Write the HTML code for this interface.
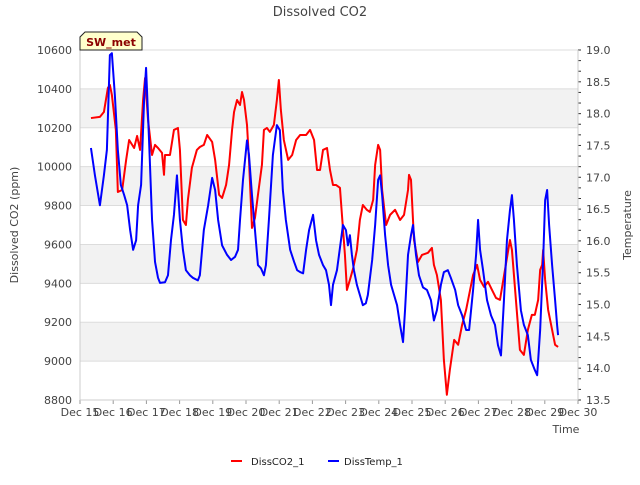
<!DOCTYPE html>
<html><head><meta charset="utf-8"><style>
body{margin:0;background:#fff;font-family:"Liberation Sans","DejaVu Sans",sans-serif;}
svg text{font-family:"DejaVu Sans","Liberation Sans",sans-serif;}
</style></head><body>
<svg id="chart" width="640" height="480" xmlns="http://www.w3.org/2000/svg">
<rect width="640" height="480" fill="#fff"/>
<g id="bands"></g><g id="grid"></g>
<text x="320" y="16" text-anchor="middle" font-size="13" fill="#444">Dissolved CO2</text>
<text transform="translate(18,225) rotate(-90)" text-anchor="middle" font-size="11" fill="#444">Dissolved CO2 (ppm)</text>
<text transform="translate(631,225) rotate(-90)" text-anchor="middle" font-size="11" fill="#444">Temperature</text>
<text x="566" y="433" text-anchor="middle" font-size="11" fill="#444">Time</text>
<g id="axes"></g><g id="series"></g>
<g>
<path d="M80,50 L80,37 L85,32 L137,32 L142,37 L142,50 Z" fill="#ffffcc" stroke="#222" stroke-width="1"/>
<text x="111" y="46" text-anchor="middle" font-size="11" font-weight="bold" fill="#8b0000">SW_met</text>
</g>
<g>
<g><line x1="231" y1="461" x2="242" y2="461" stroke="#ff0000" stroke-width="2"/><text x="251" y="465" font-size="10" fill="#222">DissCO2_1</text></g>
<g><line x1="328" y1="461" x2="339" y2="461" stroke="#0000ff" stroke-width="2"/><text x="344" y="465" font-size="10" fill="#222">DissTemp_1</text></g>
</g>
</svg>
<script>
const co2Days=[15.33,15.60,15.72,15.84,15.90,15.96,16.08,16.14,16.27,16.39,16.48,16.63,16.72,16.81,16.90,16.96,17.05,17.17,17.26,17.35,17.47,17.53,17.56,17.71,17.83,17.95,18.01,18.10,18.19,18.25,18.37,18.52,18.61,18.73,18.83,18.98,19.07,19.19,19.28,19.40,19.49,19.58,19.64,19.73,19.82,19.88,19.94,20.03,20.09,20.18,20.27,20.36,20.48,20.54,20.63,20.72,20.84,20.93,20.99,21.05,21.14,21.27,21.39,21.51,21.63,21.81,21.93,22.05,22.14,22.23,22.32,22.44,22.53,22.62,22.71,22.83,22.89,22.98,23.04,23.13,23.23,23.34,23.43,23.52,23.64,23.73,23.83,23.89,23.98,24.04,24.10,24.22,24.34,24.49,24.64,24.76,24.88,24.91,24.97,25.06,25.18,25.30,25.48,25.60,25.66,25.75,25.87,25.96,26.05,26.14,26.27,26.39,26.51,26.63,26.75,26.84,26.96,27.05,27.17,27.29,27.41,27.53,27.65,27.80,27.95,28.01,28.13,28.25,28.37,28.49,28.61,28.70,28.80,28.86,28.92,28.95,29.01,29.10,29.22,29.31,29.40];
const co2Values=[10250,10256,10281,10405,10420,10369,10189,9870,9880,10035,10137,10096,10158,10086,10343,10456,10240,10060,10112,10096,10071,9958,10060,10060,10189,10199,10086,9726,9700,9829,9994,10086,10101,10112,10163,10127,10035,9855,9839,9906,10009,10189,10281,10343,10317,10384,10343,10215,10035,9685,9736,9855,10009,10189,10199,10179,10215,10343,10446,10292,10137,10035,10060,10137,10163,10163,10189,10137,9983,9983,10086,10096,9983,9906,9906,9891,9752,9546,9366,9418,9479,9572,9726,9803,9778,9767,9829,10009,10112,10086,9880,9700,9752,9778,9726,9752,9880,9958,9932,9623,9510,9546,9557,9582,9495,9443,9315,9007,8827,8955,9109,9084,9187,9264,9366,9443,9495,9418,9382,9408,9366,9325,9315,9469,9623,9572,9315,9058,9032,9161,9238,9238,9315,9469,9495,9572,9418,9264,9161,9084,9073];
const tempDays=[15.33,15.45,15.60,15.72,15.81,15.90,15.96,16.05,16.14,16.23,16.33,16.42,16.51,16.60,16.69,16.75,16.84,16.93,16.99,17.08,17.17,17.26,17.35,17.41,17.56,17.65,17.74,17.83,17.92,18.01,18.10,18.19,18.31,18.40,18.55,18.61,18.73,18.86,18.98,19.07,19.16,19.28,19.43,19.55,19.67,19.76,19.82,19.91,20.03,20.09,20.18,20.27,20.36,20.45,20.54,20.60,20.69,20.81,20.93,21.02,21.11,21.20,21.33,21.45,21.54,21.63,21.72,21.81,21.90,22.02,22.11,22.20,22.32,22.41,22.50,22.56,22.62,22.74,22.86,22.92,23.01,23.07,23.13,23.19,23.25,23.34,23.43,23.52,23.61,23.67,23.80,23.89,23.98,24.04,24.10,24.19,24.28,24.37,24.46,24.55,24.64,24.73,24.79,24.88,24.97,25.03,25.12,25.21,25.33,25.45,25.57,25.66,25.75,25.87,25.96,26.08,26.17,26.30,26.39,26.51,26.63,26.72,26.84,26.93,26.99,27.05,27.14,27.26,27.38,27.50,27.59,27.68,27.77,27.86,27.95,28.01,28.07,28.16,28.28,28.37,28.49,28.58,28.64,28.70,28.77,28.86,28.95,29.01,29.07,29.13,29.22,29.31,29.37,29.40];
const tempValues=[17.46,17.03,16.56,17.03,17.43,18.92,18.95,18.29,17.43,16.88,16.72,16.56,16.17,15.86,16.01,16.56,16.88,18.21,18.72,17.58,16.33,15.67,15.42,15.34,15.35,15.46,16.01,16.41,17.03,16.33,15.86,15.54,15.46,15.42,15.38,15.46,16.17,16.56,16.99,16.80,16.33,15.93,15.78,15.70,15.75,15.86,16.33,16.96,17.58,17.35,16.72,16.17,15.62,15.57,15.46,15.62,16.33,17.35,17.82,17.74,16.80,16.33,15.86,15.67,15.54,15.51,15.49,15.86,16.17,16.41,16.01,15.78,15.62,15.54,15.31,14.99,15.31,15.54,16.01,16.25,16.17,15.93,16.09,15.78,15.54,15.31,15.15,14.99,15.02,15.15,15.70,16.25,16.96,17.03,16.72,16.09,15.62,15.31,15.15,14.99,14.68,14.41,14.91,15.78,16.09,16.25,15.78,15.46,15.27,15.23,15.07,14.75,14.91,15.31,15.51,15.54,15.42,15.23,14.99,14.83,14.60,14.60,15.23,15.78,16.33,15.86,15.54,15.07,14.83,14.68,14.36,14.20,15.07,16.01,16.48,16.72,16.33,15.62,14.91,14.68,14.52,14.13,14.05,13.97,13.89,14.60,15.70,16.64,16.80,16.25,15.62,15.07,14.68,14.52];
const yTicks=[8800,9000,9200,9400,9600,9800,10000,10200,10400,10600];
const y2Ticks=[13.5,14.0,14.5,15.0,15.5,16.0,16.5,17.0,17.5,18.0,18.5,19.0];
const xTickDays=[15,16,17,18,19,20,21,22,23,24,25,26,27,28,29,30];
const xTickLabels=["Dec 15","Dec 16","Dec 17","Dec 18","Dec 19","Dec 20","Dec 21","Dec 22","Dec 23","Dec 24","Dec 25","Dec 26","Dec 27","Dec 28","Dec 29","Dec 30"];

const L=80,R=578,T=50,B=400,NS="http://www.w3.org/2000/svg";
const xs=d=>L+(d-15)/15*(R-L);
const ys=v=>B-(v-8800)/1800*(B-T);
const y2s=v=>B-(v-13.5)/5.5*(B-T);
function mk(tag,attrs,parent){const e=document.createElementNS(NS,tag);for(const k in attrs)e.setAttribute(k,attrs[k]);parent.appendChild(e);return e;}
const bands=document.getElementById('bands'),grid=document.getElementById('grid'),axes=document.getElementById('axes'),series=document.getElementById('series');
for(let i=0;i<yTicks.length-1;i++){if(i%2===1){const r=mk('rect',{x:L,y:ys(yTicks[i+1]),width:R-L,height:ys(yTicks[i])-ys(yTicks[i+1]),fill:'#f2f2f2'},bands);

}}
yTicks.forEach(v=>{const y=ys(v);
const g=mk('line',{x1:L,x2:R,y1:y,y2:y,stroke:'#dcdcdc','stroke-width':1},grid);


const t=mk('text',{x:L-8,y:y+4,'text-anchor':'end','font-size':11,fill:'#444'},axes);t.textContent=v;

});
y2Ticks.forEach(v=>{const y=y2s(v);
const t=mk('text',{x:R+8,y:y+4,'font-size':11,fill:'#444'},axes);t.textContent=v.toFixed(1);

});
for(let v=13.5;v<=19.001;v+=0.5/3){const y=y2s(v);mk('line',{x1:R,x2:R+3,y1:y,y2:y,stroke:'#333','stroke-width':1},axes);}
xTickDays.forEach((d,i)=>{const x=xs(d);
mk('line',{x1:x,x2:x,y1:B,y2:B+4,stroke:'#999'},axes);
const t=mk('text',{x:x,y:B+16,'text-anchor':'middle','font-size':11,fill:'#444'},axes);t.textContent=xTickLabels[i];

});
mk('line',{x1:L,x2:L,y1:T,y2:B,stroke:'#ccc'},axes);
mk('line',{x1:L,x2:R,y1:B,y2:B,stroke:'#ccc'},axes);
mk('line',{x1:R,x2:R,y1:T,y2:B,stroke:'#ccc'},axes);
const p1=mk('polyline',{points:co2Days.map((d,i)=>xs(d)+','+ys(co2Values[i])).join(' '),fill:'none',stroke:'#ff0000','stroke-width':2,'stroke-linejoin':'round'},series);


const p2=mk('polyline',{points:tempDays.map((d,i)=>xs(d)+','+y2s(tempValues[i])).join(' '),fill:'none',stroke:'#0000ff','stroke-width':2,'stroke-linejoin':'round'},series);


</script>
</body></html>
